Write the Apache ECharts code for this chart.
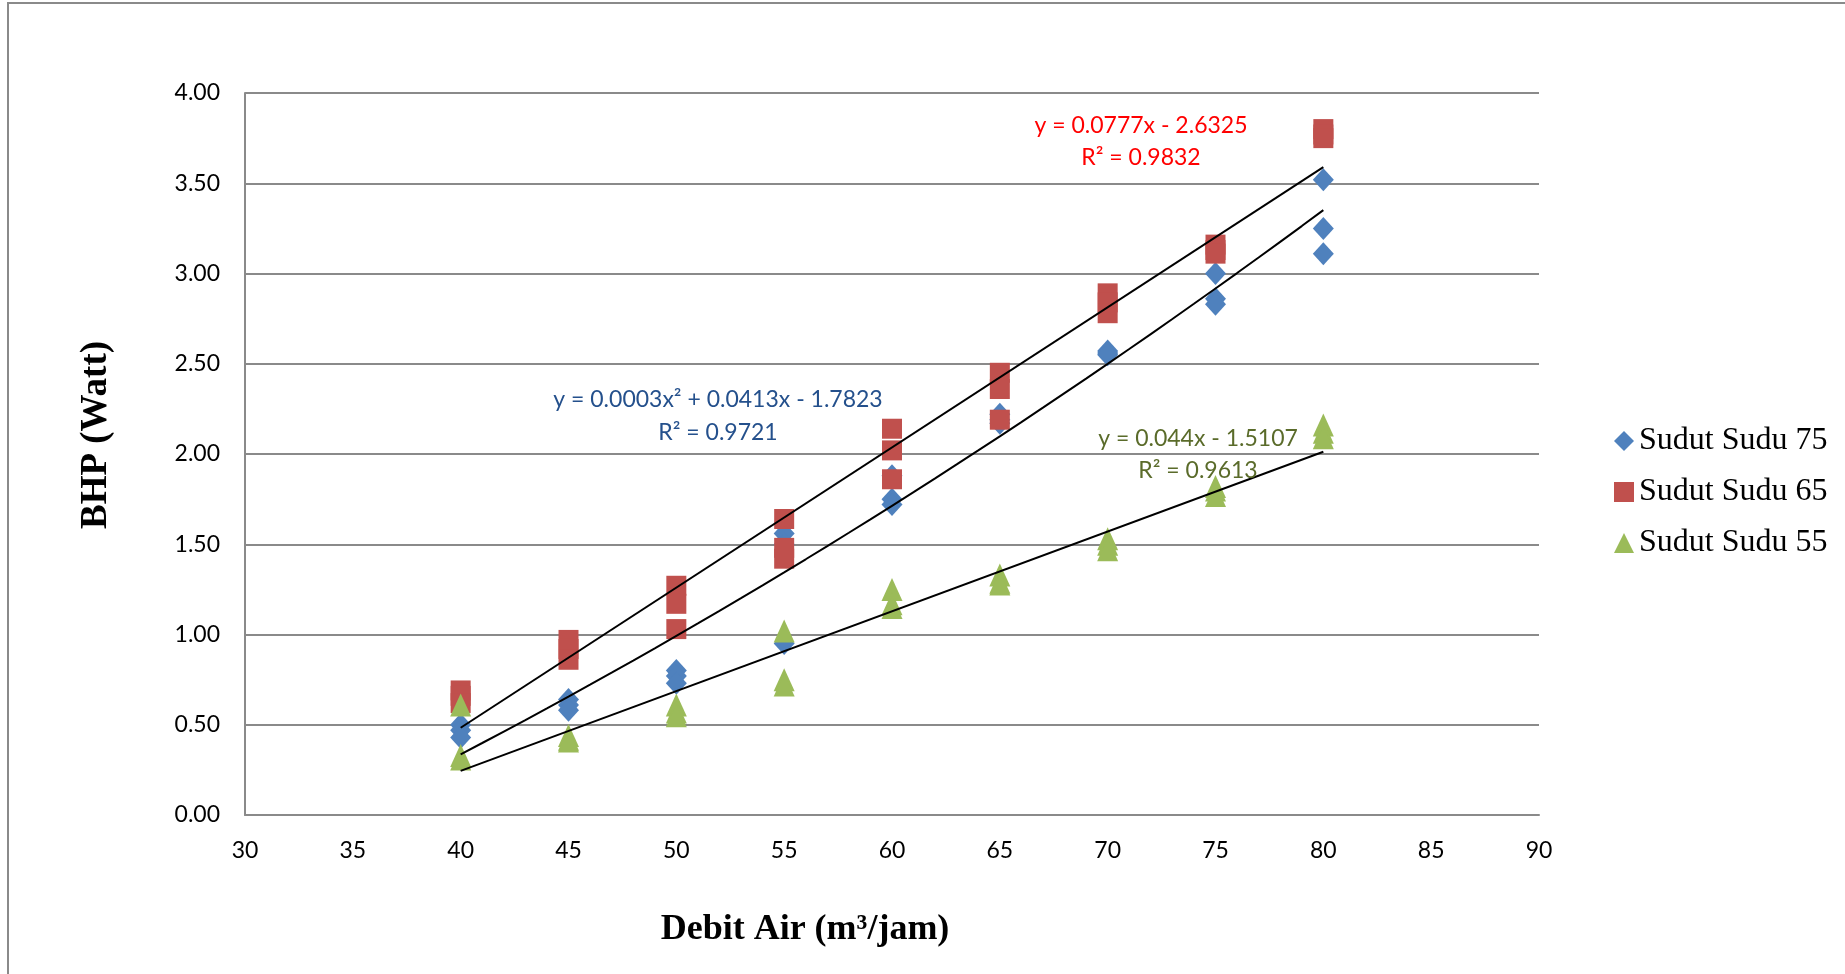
<!DOCTYPE html>
<html>
<head>
<meta charset="utf-8">
<title>BHP vs Debit Air</title>
<script src="https://cdn.jsdelivr.net/npm/echarts@6/dist/echarts.min.js"></script>
<style>
  html, body { margin: 0; padding: 0; background: #fff; }
  #mychart { width: 1845px; height: 974px; }
</style>
</head>
<body>
<div id="mychart"></div>
<script>
// debit air (m3/jam), three readings per flow
var debit = [40, 45, 50, 55, 60, 65, 70, 75, 80];
var sudu75 = [
  [0.50, 0.47, 0.43], [0.64, 0.61, 0.58], [0.80, 0.77, 0.73],
  [1.56, 1.50, 0.95], [1.88, 1.75, 1.72], [2.22, 2.19, 2.17],
  [2.57, 2.56, 2.55], [3.00, 2.86, 2.83], [3.52, 3.25, 3.11]
];
var sudu65 = [
  [0.69, 0.66, 0.62], [0.97, 0.92, 0.86], [1.27, 1.17, 1.03],
  [1.64, 1.48, 1.42], [2.14, 2.02, 1.86], [2.45, 2.36, 2.19],
  [2.89, 2.84, 2.78], [3.16, 3.13, 3.11], [3.80, 3.77, 3.75]
];
var sudu55 = [
  [0.61, 0.33, 0.31], [0.44, 0.42, 0.41], [0.61, 0.57, 0.55],
  [1.02, 0.75, 0.72], [1.25, 1.17, 1.15], [1.33, 1.29, 1.28],
  [1.53, 1.50, 1.47], [1.82, 1.80, 1.77], [2.16, 2.12, 2.09]
];
var seriesNames = ['Sudut Sudu 75', 'Sudut Sudu 65', 'Sudut Sudu 55'];
var eqText75 = ['y = 0.0003x\u00b2 + 0.0413x - 1.7823', 'R\u00b2 = 0.9721'];
var eqText65 = ['y = 0.0777x - 2.6325', 'R\u00b2 = 0.9832'];
var eqText55 = ['y = 0.044x - 1.5107', 'R\u00b2 = 0.9613'];

// flatten to [x, y] pairs
function toPoints(rows) {
  var pts = [];
  rows.forEach(function (r, i) {
    r.forEach(function (v) { pts.push([debit[i], v]); });
  });
  return pts;
}

// least squares polynomial fit (degree 1 or 2)
function polyFit(pts, deg) {
  var n = deg + 1;
  var A = [], b = [];
  for (var i = 0; i < n; i++) {
    A.push([]);
    for (var j = 0; j < n; j++) {
      var s = 0;
      pts.forEach(function (p) { s += Math.pow(p[0], i + j); });
      A[i].push(s);
    }
    var t = 0;
    pts.forEach(function (p) { t += p[1] * Math.pow(p[0], i); });
    b.push(t);
  }
  // gauss elimination
  for (var k = 0; k < n; k++) {
    for (var r = k + 1; r < n; r++) {
      var f = A[r][k] / A[k][k];
      for (var c = k; c < n; c++) A[r][c] -= f * A[k][c];
      b[r] -= f * b[k];
    }
  }
  var coef = new Array(n);
  for (var k2 = n - 1; k2 >= 0; k2--) {
    var s2 = b[k2];
    for (var c2 = k2 + 1; c2 < n; c2++) s2 -= A[k2][c2] * coef[c2];
    coef[k2] = s2 / A[k2][k2];
  }
  return coef;
}

function trendLine(pts, deg) {
  var coef = polyFit(pts, deg);
  var out = [];
  var x0 = debit[0], x1 = debit[debit.length - 1];
  var step = deg === 1 ? (x1 - x0) : 1;
  for (var x = x0; x <= x1; x += step) {
    var y = 0;
    for (var i = 0; i < coef.length; i++) y += coef[i] * Math.pow(x, i);
    out.push([x, y]);
  }
  return out;
}

var p75 = toPoints(sudu75), p65 = toPoints(sudu65), p55 = toPoints(sudu55);

var mycharts = echarts.init(document.getElementById('mychart'));

var trendStyle = { color: '#000', width: 2 };
var eqFont = '23px Lato';

var option = {
  animation: false,
  backgroundColor: '#fff',
  grid: { left: 245, top: 93, width: 1294, height: 722 },
  xAxis: {
    type: 'value',
    min: 30, max: 90, interval: 5,
    axisLine: { show: true, lineStyle: { color: '#8a8a8a', width: 2 } },
    axisTick: { show: false },
    splitLine: { show: false },
    axisLabel: { color: '#000', fontSize: 23, fontFamily: 'Lato', margin: 24 }
  },
  yAxis: {
    type: 'value',
    min: 0, max: 4, interval: 0.5,
    axisLine: { show: true, lineStyle: { color: '#8a8a8a', width: 2 } },
    axisTick: { show: false },
    splitLine: { show: true, lineStyle: { color: '#8a8a8a', width: 2 } },
    axisLabel: {
      color: '#000', fontSize: 23, fontFamily: 'Lato', margin: 25,
      formatter: function (v) { return v.toFixed(2); }
    }
  },
  legend: {
    data: seriesNames,
    orient: 'vertical',
    left: 1609, top: 418,
    itemWidth: 20, itemHeight: 20, itemGap: 15,
    textStyle: { fontSize: 32, fontFamily: 'Liberation Serif', color: '#000', lineHeight: 36 }
  },
  series: [
    {
      name: seriesNames[0], type: 'scatter', symbol: 'diamond', symbolSize: [21, 23],
      itemStyle: { color: '#4F81BD', opacity: 1 }, data: p75, z: 2
    },
    {
      name: seriesNames[1], type: 'scatter', symbol: 'rect', symbolSize: 20,
      itemStyle: { color: '#C0504D', opacity: 1 }, data: p65, z: 3
    },
    {
      name: seriesNames[2], type: 'scatter', symbol: 'triangle', symbolSize: [21, 23],
      itemStyle: { color: '#9BBB59', opacity: 1 }, data: p55, z: 4
    },
    // trend lines
    { type: 'line', data: trendLine(p75, 2), showSymbol: false, lineStyle: trendStyle, z: 6, silent: true },
    { type: 'line', data: trendLine(p65, 1), showSymbol: false, lineStyle: trendStyle, z: 6, silent: true },
    { type: 'line', data: trendLine(p55, 1), showSymbol: false, lineStyle: trendStyle, z: 6, silent: true }
  ],
  graphic: [
    // outer frame
    { type: 'rect', shape: { x: 8, y: 3, width: 1900, height: 1000 }, style: { fill: 'none', stroke: '#8a8a8a', lineWidth: 2 }, silent: true },
    // axis titles
    {
      type: 'text', x: 96, y: 435, rotation: Math.PI / 2,
      style: { text: 'BHP (Watt)', font: 'bold 37px "Liberation Serif"', fill: '#000', align: 'center', verticalAlign: 'middle' }
    },
    {
      type: 'text', x: 805, y: 930,
      style: { text: 'Debit Air (m\u00b3/jam)', font: 'bold 36px "Liberation Serif"', fill: '#000', align: 'center', verticalAlign: 'middle' }
    },
    // trendline equations
    { type: 'text', x: 718, y: 400, style: { text: eqText75[0], font: eqFont, fill: '#24508C', align: 'center', verticalAlign: 'middle' }, z: 10 },
    { type: 'text', x: 718, y: 433, style: { text: eqText75[1], font: eqFont, fill: '#24508C', align: 'center', verticalAlign: 'middle' }, z: 10 },
    { type: 'text', x: 1141, y: 126, style: { text: eqText65[0], font: eqFont, fill: '#FF0000', align: 'center', verticalAlign: 'middle' }, z: 10 },
    { type: 'text', x: 1141, y: 158, style: { text: eqText65[1], font: eqFont, fill: '#FF0000', align: 'center', verticalAlign: 'middle' }, z: 10 },
    { type: 'text', x: 1198, y: 439, style: { text: eqText55[0], font: eqFont, fill: '#5A6B2A', align: 'center', verticalAlign: 'middle' }, z: 10 },
    { type: 'text', x: 1198, y: 471, style: { text: eqText55[1], font: eqFont, fill: '#5A6B2A', align: 'center', verticalAlign: 'middle' }, z: 10 }
  ]
};

mycharts.setOption(option);
</script>
</body>
</html>
